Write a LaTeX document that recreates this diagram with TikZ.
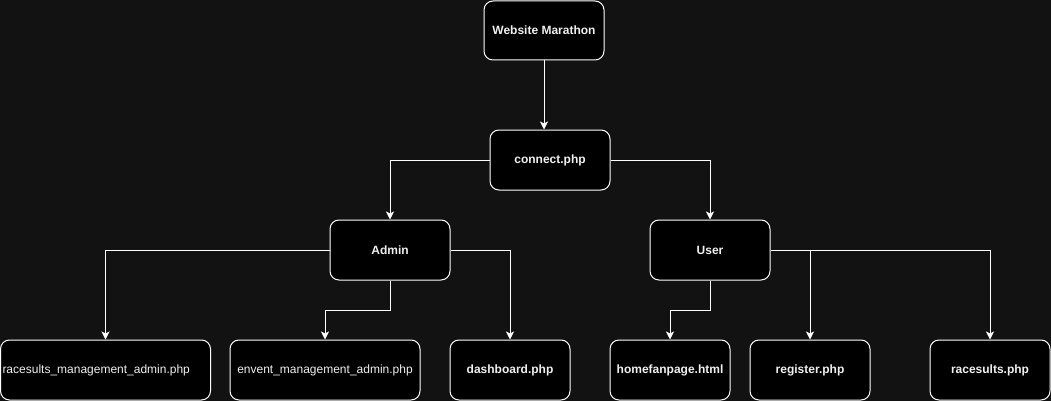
\documentclass[tikz,border=0pt]{standalone}
\usepackage{fontspec}
\setmainfont{Liberation Sans}
\usetikzlibrary{arrows.meta}
\definecolor{bg}{HTML}{121212}
\definecolor{txt}{HTML}{F0F0F0}
\begin{document}
\begin{tikzpicture}[x=1pt,y=-1pt,
  box/.style={draw=white, fill=black, line width=1pt, rounded corners=9pt,
    minimum height=60pt, minimum width=120pt, inner sep=0pt, text=txt,
    font=\fontsize{12pt}{14pt}\selectfont\bfseries},
  plain/.style={font=\fontsize{12pt}{14pt}\selectfont},
  conn/.style={draw=white, line width=1pt, -{Stealth[width=8pt,length=8pt,inset=2pt]}}]
\fill[bg] (0,0) rectangle (1051,401);
\useasboundingbox (0,0) rectangle (1051,401);
\node[box, minimum height=59pt] (wm) at (544,30.5) {Website Marathon};
\node[box] (con) at (550,160) {connect.php};
\node[box] (adm) at (390,250) {Admin};
\node[box] (usr) at (710,250) {User};
\node[box, plain, minimum width=210pt, text width=206pt, align=left, inner xsep=2pt] (b1) at (105.5,370) {racesults\_management\_admin.php};
\node[box, plain, minimum width=190pt] (b2) at (325,370) {envent\_management\_admin.php};
\node[box] (b3) at (510,370) {dashboard.php};
\node[box] (b4) at (670,370) {homefanpage.html};
\node[box] (b5) at (810,370) {register.php};
\node[box] (b6) at (990,370) {racesults.php};
\draw[conn] (wm.south) -- (wm.south |- con.north);
\draw[conn] (con.west) -| (adm.north);
\draw[conn] (con.east) -| (usr.north);
\draw[conn] (adm.west) -| (b1.north);
\draw[conn] (adm.south) -- ++(0,30) -| (b2.north);
\draw[conn] (adm.east) -| (b3.north);
\draw[conn] (usr.south) -- ++(0,30) -| (b4.north);
\draw[conn] (usr.east) -| (b5.north);
\draw[conn] (usr.east) -| (b6.north);
\end{tikzpicture}
\end{document}
